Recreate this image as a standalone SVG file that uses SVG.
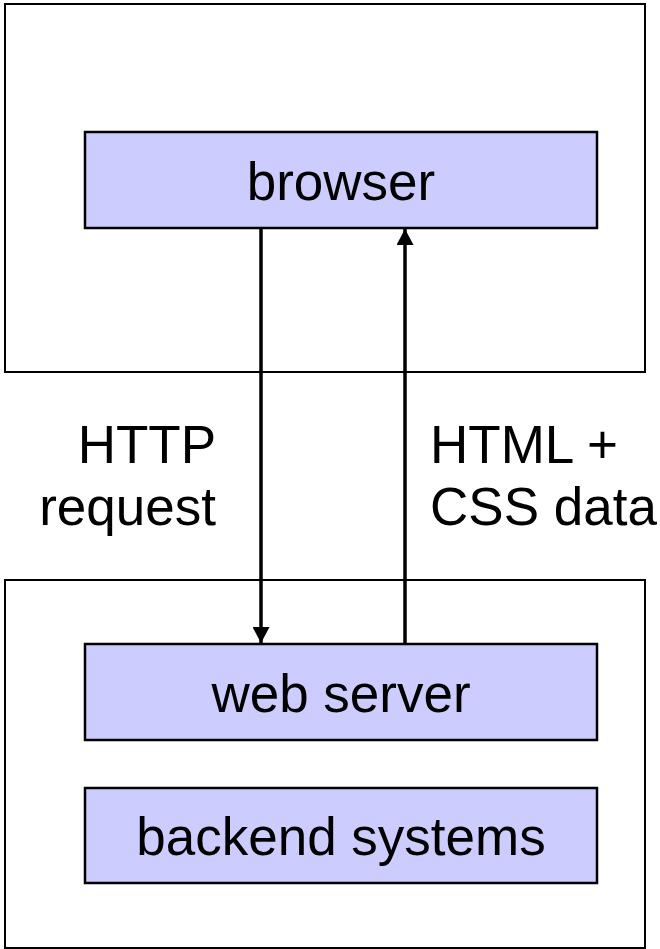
<svg xmlns="http://www.w3.org/2000/svg" width="660" height="949" viewBox="0 0 660 949">
  <style>
    .frame { fill: #ffffff; stroke: #000000; stroke-width: 2; }
    .box { fill: #ccccff; stroke: #000000; stroke-width: 2.5; }
    .label { font-family: "Liberation Sans", Arial, sans-serif; font-size: 53px; fill: #000000; }
    .mid { text-anchor: middle; }
    .wire { stroke: #000000; stroke-width: 3.5; fill: none; }
  </style>
  <defs>
    <marker id="head" viewBox="0 0 16 17" refX="16" refY="8.5" markerWidth="16" markerHeight="17" markerUnits="userSpaceOnUse" orient="auto">
      <path d="M0,0 L16,8.5 L0,17 Z" fill="#000000"/>
    </marker>
  </defs>

  <!-- client side frame -->
  <g id="client">
    <rect class="frame" x="5" y="4" width="640" height="368"/>
  </g>
  <!-- server side frame -->
  <g id="server">
    <rect class="frame" x="5" y="580" width="640" height="368"/>
  </g>

  <g id="browser">
    <rect class="box" x="85" y="132" width="512" height="96"/>
    <text class="label mid" x="341" y="200">browser</text>
  </g>

  <g id="web-server">
    <rect class="box" x="85" y="644" width="512" height="96"/>
    <text class="label mid" x="341" y="712">web server</text>
  </g>

  <g id="backend">
    <rect class="box" x="85" y="788" width="512" height="95"/>
    <text class="label mid" x="341" y="855">backend systems</text>
  </g>

  <g id="connectors">
    <line class="wire" x1="261" y1="229" x2="261" y2="643" marker-end="url(#head)"/>
    <line class="wire" x1="405" y1="643" x2="405" y2="229" marker-end="url(#head)"/>
    <text class="label" x="216" y="463" text-anchor="end">HTTP</text>
    <text class="label" x="216" y="525" text-anchor="end">request</text>
    <text class="label" x="430" y="463">HTML +</text>
    <text class="label" x="430" y="525">CSS data</text>
  </g>
</svg>
